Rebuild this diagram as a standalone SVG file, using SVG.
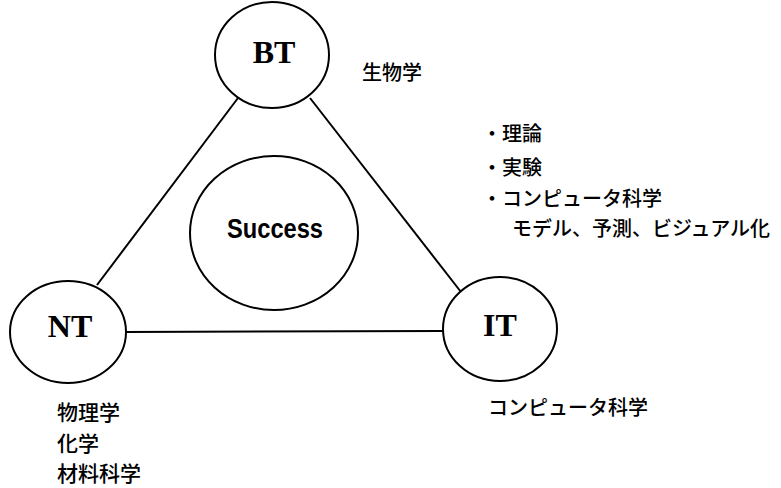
<svg xmlns="http://www.w3.org/2000/svg" width="781" height="488" viewBox="0 0 781 488">
<style>
.node{fill:#fff;stroke:#000;stroke-width:2}
.conn{stroke:#000;stroke-width:2;fill:none}
.ser{font-family:"Liberation Serif","Times New Roman",serif;font-size:32px;font-weight:bold;fill:#000;text-anchor:middle}
.jp{font-family:"Noto Sans CJK JP","Noto Sans CJK SC",sans-serif;font-size:20px;font-weight:500;fill:#000}
.suc{font-family:"Liberation Sans",Arial,sans-serif;font-size:28px;font-weight:bold;fill:#000;text-anchor:middle}
</style>
<rect width="781" height="488" fill="#fff"/>
<g id="connectors">
<line class="conn" x1="238" y1="98" x2="97" y2="285"/>
<line class="conn" x1="310" y1="98" x2="461" y2="292"/>
<line class="conn" x1="126" y1="332" x2="443" y2="331"/>
</g>
<g id="node-bt">
<ellipse class="node" cx="272" cy="55" rx="57" ry="53"/>
<text class="ser" x="274" y="63">BT</text>
</g>
<g id="node-nt">
<ellipse class="node" cx="68" cy="332" rx="58" ry="51"/>
<text class="ser" x="70" y="337">NT</text>
</g>
<g id="node-it">
<ellipse class="node" cx="500" cy="329" rx="57" ry="52"/>
<text class="ser" x="500" y="336">IT</text>
</g>
<g id="node-success">
<ellipse class="node" cx="274" cy="233" rx="84" ry="77"/>
<text class="suc" x="275" y="238" textLength="96" lengthAdjust="spacingAndGlyphs">Success</text>
</g>
<g id="labels">
<text class="jp" x="362" y="80">生物学</text>
<text class="jp" x="482" y="141">・理論</text>
<text class="jp" x="482" y="175">・実験</text>
<text class="jp" x="482" y="206">・コンピュータ科学</text>
<text class="jp" x="512" y="236">モデル、予測、ビジュアル化</text>
<text class="jp" x="488" y="415">コンピュータ科学</text>
<text class="jp" x="57" y="420" style="font-size:21px">物理学</text>
<text class="jp" x="57" y="451" style="font-size:21px">化学</text>
<text class="jp" x="57" y="481" style="font-size:21px">材料科学</text>
</g>
</svg>
